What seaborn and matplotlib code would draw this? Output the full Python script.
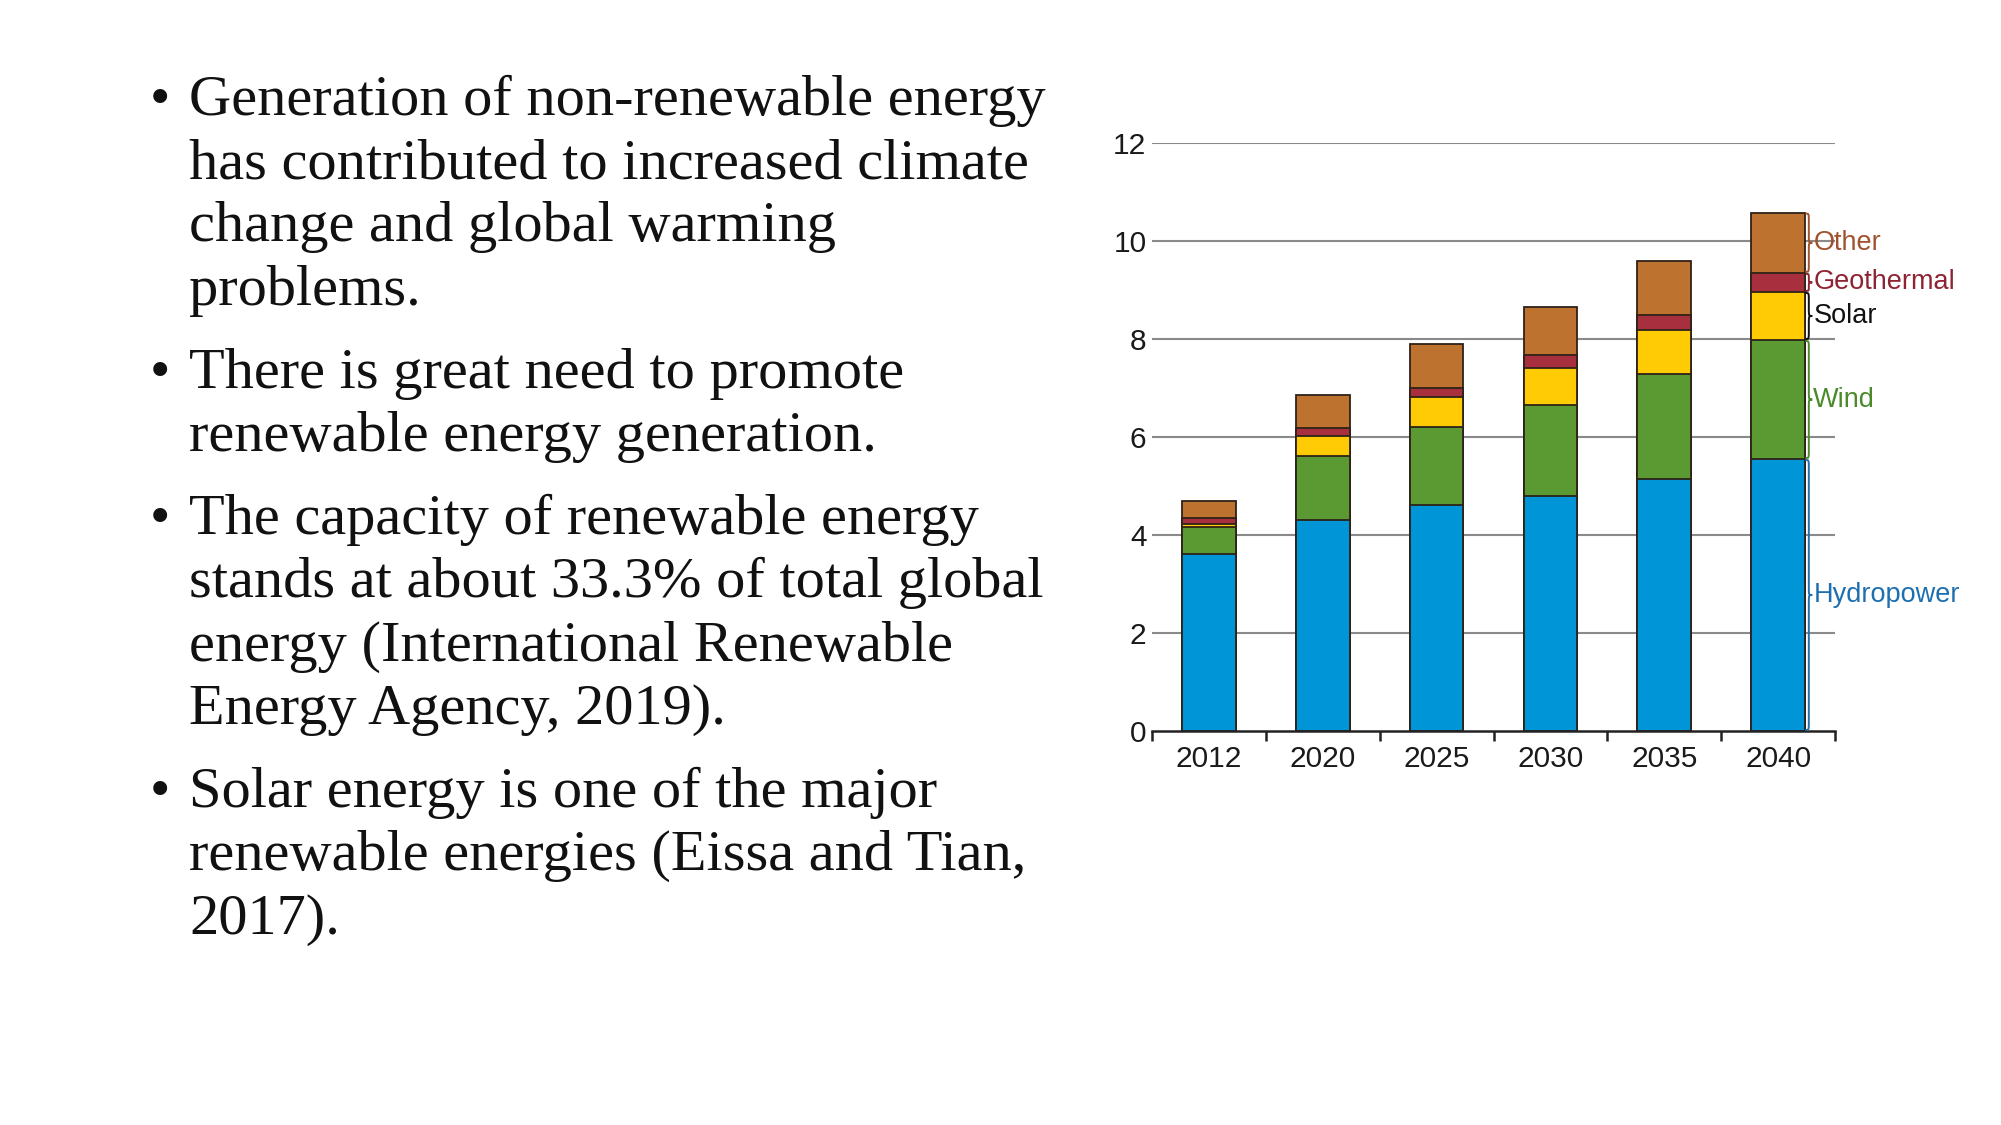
import numpy as np
import pandas as pd
import matplotlib
matplotlib.use("Agg")
import matplotlib.pyplot as plt
import matplotlib.path as mpath
import matplotlib.patches as mpatches
import seaborn as sns

years = ["2012", "2020", "2025", "2030", "2035", "2040"]
hydropower = [3.61, 4.30, 4.62, 4.80, 5.14, 5.55]
wind = [0.56, 1.31, 1.59, 1.86, 2.14, 2.43]
solar = [0.06, 0.41, 0.61, 0.74, 0.91, 0.98]
geothermal = [0.11, 0.16, 0.19, 0.27, 0.31, 0.39]
other = [0.35, 0.68, 0.89, 0.98, 1.10, 1.23]

series_names = ["Hydropower", "Wind", "Solar", "Geothermal", "Other"]
series_colors = ["#0095D6", "#5B9A32", "#FFCB05", "#A8303E", "#BE7230"]
label_colors = ["#1E6FB0", "#4A8A2A", "#111111", "#8E2433", "#A0522D"]

bullets = [
    ["Generation of non-renewable energy",
     "has contributed to increased climate",
     "change and global warming",
     "problems."],
    ["There is great need to promote",
     "renewable energy generation."],
    ["The capacity of renewable energy",
     "stands at about 33.3% of total global",
     "energy (International Renewable",
     "Energy Agency, 2019)."],
    ["Solar energy is one of the major",
     "renewable energies (Eissa and Tian,",
     "2017)."],
]

sns.set_theme(style="white")
plt.rcParams["font.family"] = ["Liberation Sans", "DejaVu Sans"]

W, H = 2001, 1125
fig = plt.figure(figsize=(W / 100, H / 100), dpi=100)
fig.patch.set_facecolor("white")

# ---- text block ----
serif = ["Liberation Serif", "DejaVu Serif"]
line_h = 63.2
para_gap = 20
y = 115
for para in bullets:
    fig.text(150 / W, 1 - y / H, "•", fontsize=42, family=serif,
             va="baseline", ha="left", color="#111111")
    for line in para:
        fig.text(189 / W, 1 - y / H, line, fontsize=42, family=serif,
                 va="baseline", ha="left", color="#111111")
        y += line_h
    y += para_gap

# ---- chart ----
ax = fig.add_axes([1152 / W, 1 - 731 / H, (1835 - 1152) / W, (731 - 143) / H])
ax.set_facecolor("white")

data = pd.DataFrame({"year": years, "Hydropower": hydropower, "Wind": wind,
                     "Solar": solar, "Geothermal": geothermal, "Other": other})
cum = data[series_names].cumsum(axis=1)

for name, col in zip(series_names[::-1], series_colors[::-1]):
    sns.barplot(data=cum.assign(year=years), x="year", y=name, order=years,
                color=col, width=0.47, edgecolor="#2e2218", linewidth=1.3,
                saturation=1, ax=ax, zorder=3)

ax.set_xlim(-0.5, 5.5)
ax.set_ylim(0, 12)
ax.set_yticks([0, 2, 4, 6, 8, 10, 12])
ax.set_xlabel("")
ax.set_ylabel("")
for yv in [2, 4, 6, 8, 10, 12]:
    ax.axhline(yv, color="#8a8a8a", lw=1.5, zorder=1)
for s in ["top", "right", "left"]:
    ax.spines[s].set_visible(False)
ax.spines["bottom"].set_color("#222222")
ax.spines["bottom"].set_linewidth(1.8)
ax.spines["bottom"].set_zorder(4)
ax.tick_params(axis="x", which="major", length=0, pad=10, labelsize=21.5, labelcolor="#1a1a1a")
ax.tick_params(axis="y", which="major", length=0, pad=4, labelsize=21.5, labelcolor="#1a1a1a")
ax.set_xticks(np.arange(-0.5, 6.0, 1.0), minor=True)
ax.tick_params(axis="x", which="minor", bottom=True, length=7, width=1.8,
               color="#222222", direction="out")
ax.grid(False)


def brace(ax, x0, y0, y1, w, color):
    h = y1 - y0
    d = min(0.15, h / 4.0)
    mid = (y0 + y1) / 2
    xm = x0 + w * 0.5
    xt = x0 + w
    verts = [
        (x0, y1),
        (xm, y1), (xm, y1), (xm, y1 - d),
        (xm, mid + d),
        (xm, mid), (xm, mid), (xt, mid),
        (xm, mid), (xm, mid), (xm, mid - d),
        (xm, y0 + d),
        (xm, y0), (xm, y0), (x0, y0),
    ]
    codes = [mpath.Path.MOVETO,
             mpath.Path.CURVE4, mpath.Path.CURVE4, mpath.Path.CURVE4,
             mpath.Path.LINETO,
             mpath.Path.CURVE4, mpath.Path.CURVE4, mpath.Path.CURVE4,
             mpath.Path.CURVE4, mpath.Path.CURVE4, mpath.Path.CURVE4,
             mpath.Path.LINETO,
             mpath.Path.CURVE4, mpath.Path.CURVE4, mpath.Path.CURVE4]
    p = mpatches.PathPatch(mpath.Path(verts, codes), fill=False, edgecolor=color,
                           lw=1.4, clip_on=False, zorder=5)
    ax.add_patch(p)


last = cum.iloc[-1]
bottoms = [0.0] + list(last.values[:-1])
tops = list(last.values)
for i, name in enumerate(series_names):
    b, t = bottoms[i], tops[i]
    brace(ax, 5.24, b + 0.02, t - 0.02, 0.06, label_colors[i])
    ax.text(5.31, (b + t) / 2, name, color=label_colors[i], fontsize=19.5,
            va="center", ha="left", clip_on=False)

fig.savefig("out.png", dpi=100, facecolor="white")
